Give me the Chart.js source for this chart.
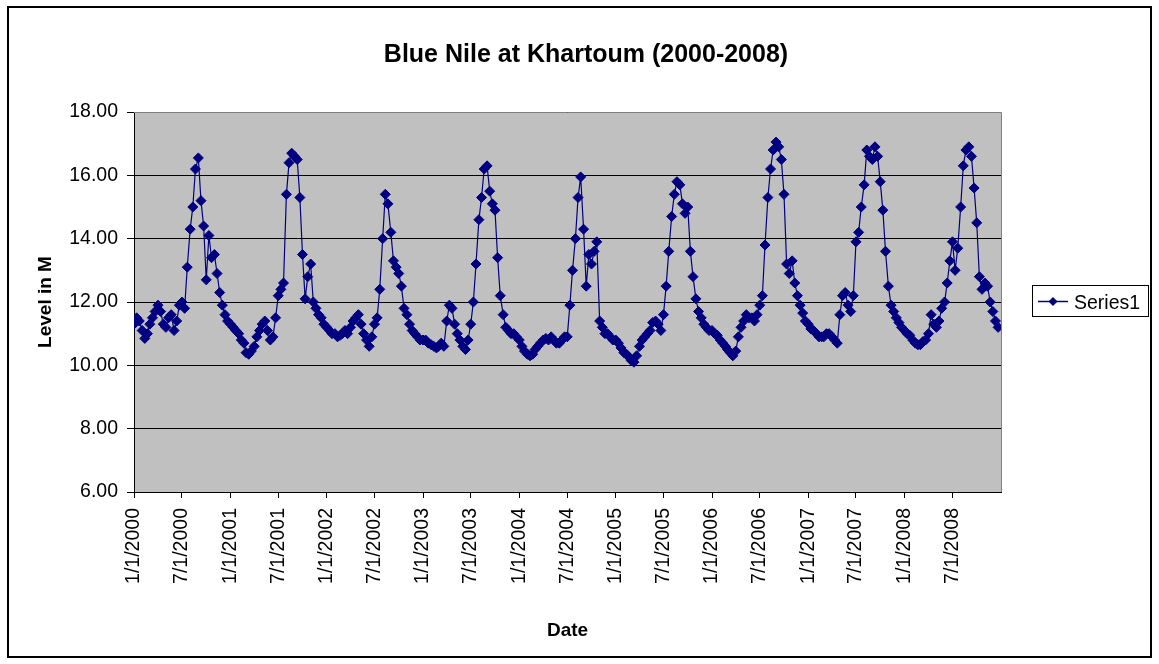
<!DOCTYPE html>
<html>
<head>
<meta charset="utf-8">
<title>Blue Nile at Khartoum (2000-2008)</title>
<script src="https://cdn.jsdelivr.net/npm/chart.js@4.4.1/dist/chart.umd.min.js"></script>
<style>
  html, body { margin: 0; padding: 0; background: #fff; }
  canvas { display: block; }
</style>
</head>
<body>
<canvas id="nileChart" width="1159" height="664"></canvas>
<script>
// water level (m), sampled on the 1st, 11th and 21st of each month
const levels2000 = [11.3, 11.5, 11.4, 11.1, 10.85, 11.0, 11.3, 11.5, 11.7, 11.9, 11.7, 11.3,
                    11.2, 11.5, 11.6, 11.1, 11.4, 11.9, 12.0, 11.8, 13.1, 14.3, 15.0, 16.2,
                    16.55, 15.2, 14.4, 12.7, 14.1, 13.4, 13.5, 12.9, 12.3, 11.9, 11.6, 11.4];
const levels2001 = [11.3, 11.2, 11.1, 11.0, 10.8, 10.7, 10.4, 10.35, 10.45, 10.6, 10.9, 11.1,
                    11.3, 11.4, 11.1, 10.8, 10.9, 11.5, 12.2, 12.4, 12.6, 15.4, 16.4, 16.7,
                    16.6, 16.5, 15.3, 13.5, 12.1, 12.8, 13.2, 12.0, 11.8, 11.6, 11.5, 11.3];
const levels2002 = [11.2, 11.1, 11.0, 11.0, 10.9, 10.95, 11.0, 11.1, 11.0, 11.2, 11.4, 11.5,
                    11.6, 11.3, 11.0, 10.8, 10.6, 10.9, 11.3, 11.5, 12.4, 14.0, 15.4, 15.1,
                    14.2, 13.3, 13.1, 12.9, 12.5, 11.8, 11.6, 11.3, 11.1, 11.0, 10.9, 10.8];
const levels2003 = [10.8, 10.8, 10.7, 10.65, 10.6, 10.55, 10.6, 10.7, 10.6, 11.4, 11.9, 11.8,
                    11.3, 11.0, 10.8, 10.6, 10.5, 10.8, 11.3, 12.0, 13.2, 14.6, 15.3, 16.2,
                    16.3, 15.5, 15.1, 14.9, 13.4, 12.2, 11.6, 11.2, 11.1, 11.0, 11.0, 10.9];
const levels2004 = [10.8, 10.6, 10.45, 10.35, 10.3, 10.35, 10.5, 10.6, 10.7, 10.8, 10.85, 10.8,
                    10.9, 10.8, 10.7, 10.7, 10.8, 10.9, 10.9, 11.9, 13.0, 14.0, 15.3, 15.95,
                    14.3, 12.5, 13.5, 13.2, 13.6, 13.9, 11.4, 11.2, 11.0, 11.0, 10.9, 10.8];
const levels2005 = [10.8, 10.7, 10.55, 10.4, 10.35, 10.25, 10.15, 10.1, 10.3, 10.6, 10.8, 10.9,
                    11.0, 11.1, 11.35, 11.4, 11.3, 11.1, 11.6, 12.5, 13.6, 14.7, 15.4, 15.8,
                    15.7, 15.1, 14.8, 15.0, 13.6, 12.8, 12.1, 11.7, 11.5, 11.3, 11.2, 11.1];
const levels2006 = [11.1, 11.0, 10.95, 10.8, 10.7, 10.6, 10.5, 10.4, 10.3, 10.45, 10.9, 11.2,
                    11.4, 11.6, 11.5, 11.5, 11.4, 11.6, 11.9, 12.2, 13.8, 15.3, 16.2, 16.8,
                    17.05, 16.9, 16.5, 15.4, 13.2, 12.9, 13.3, 12.6, 12.2, 11.9, 11.65, 11.4];
const levels2007 = [11.3, 11.15, 11.1, 11.0, 10.9, 10.9, 10.9, 11.0, 11.0, 10.9, 10.8, 10.7,
                    11.6, 12.2, 12.3, 11.9, 11.7, 12.2, 13.9, 14.2, 15.0, 15.7, 16.8, 16.6,
                    16.5, 16.9, 16.6, 15.8, 14.9, 13.6, 12.5, 11.9, 11.7, 11.5, 11.35, 11.2];
const levels2008 = [11.1, 11.0, 10.95, 10.8, 10.7, 10.65, 10.65, 10.75, 10.8, 11.0, 11.6, 11.3,
                    11.2, 11.4, 11.8, 12.0, 12.6, 13.3, 13.9, 13.0, 13.7, 15.0, 16.3, 16.8,
                    16.9, 16.6, 15.6, 14.5, 12.8, 12.4, 12.6, 12.5, 12.0, 11.7, 11.4, 11.2];

const years = [2000, 2001, 2002, 2003, 2004, 2005, 2006, 2007, 2008];
const sampleDays = [1, 11, 21];
const tickLabels = ['1/1/2000', '7/1/2000', '1/1/2001', '7/1/2001', '1/1/2002', '7/1/2002',
                    '1/1/2003', '7/1/2003', '1/1/2004', '7/1/2004', '1/1/2005', '7/1/2005',
                    '1/1/2006', '7/1/2006', '1/1/2007', '7/1/2007', '1/1/2008', '7/1/2008'];
const yTicks = [6, 8, 10, 12, 14, 16, 18];
const seriesName = 'Series1';
const chartTitle = 'Blue Nile at Khartoum (2000-2008)';
const xTitle = 'Date';
const yTitle = 'Level in M';

const DAY = 86400000;
const origin = Date.UTC(2000, 0, 1);
const dayOf = (y, m, d) => Math.round((Date.UTC(y, m, d) - origin) / DAY);
const parseLabel = s => { const [m, d, y] = s.split('/').map(Number); return dayOf(y, m - 1, d); };
const tickDays = tickLabels.map(parseLabel);
const endDay = dayOf(2009, 0, 1);

const yearLevels = [levels2000, levels2001, levels2002, levels2003, levels2004,
                    levels2005, levels2006, levels2007, levels2008];
const points = [];
years.forEach((yr, yi) => {
  yearLevels[yi].forEach((v, i) => {
    const month = Math.floor(i / 3);
    points.push({ x: dayOf(yr, month, sampleDays[i % 3]), y: v });
  });
});

const NAVY = '#000080';
const FONT = "'Liberation Sans', Arial, sans-serif";

const frame = {
  id: 'frame',
  beforeDraw(chart) {
    const { ctx, chartArea: a } = chart;
    ctx.save();
    ctx.fillStyle = '#fff';
    ctx.fillRect(0, 0, chart.width, chart.height);
    ctx.fillStyle = '#C0C0C0';
    ctx.fillRect(a.left, a.top, a.right - a.left, a.bottom - a.top);
    ctx.restore();
  },
  afterDraw(chart) {
    const { ctx, chartArea: a } = chart;
    ctx.save();
    // plot area edges
    ctx.strokeStyle = '#808080';
    ctx.lineWidth = 1;
    ctx.beginPath();
    ctx.moveTo(a.left, a.top + 0.5);
    ctx.lineTo(a.right + 0.5, a.top + 0.5);
    ctx.lineTo(a.right + 0.5, a.bottom);
    ctx.stroke();
    // outer chart border
    ctx.strokeStyle = '#000';
    ctx.lineWidth = 2;
    ctx.strokeRect(8, 7, 1143, 650);
    // title
    ctx.fillStyle = '#000';
    ctx.font = 'bold 25px ' + FONT;
    ctx.textAlign = 'center';
    ctx.textBaseline = 'alphabetic';
    ctx.fillText(chartTitle, 586, 62);
    // legend
    ctx.lineWidth = 1;
    ctx.strokeRect(1032.5, 285.5, 116, 31);
    ctx.strokeStyle = NAVY;
    ctx.lineWidth = 1.5;
    ctx.beginPath();
    ctx.moveTo(1038, 301.5);
    ctx.lineTo(1068, 301.5);
    ctx.stroke();
    ctx.fillStyle = NAVY;
    ctx.beginPath();
    ctx.moveTo(1053, 297);
    ctx.lineTo(1057.5, 301.5);
    ctx.lineTo(1053, 306);
    ctx.lineTo(1048.5, 301.5);
    ctx.closePath();
    ctx.fill();
    ctx.fillStyle = '#000';
    ctx.font = '19.5px ' + FONT;
    ctx.textAlign = 'left';
    ctx.fillText(chart.data.datasets[0].label, 1074, 309);
    ctx.restore();
  }
};

const tickFont = { family: FONT, size: 19.5 };
const titleFont = { family: FONT, size: 19, weight: 'bold' };

const ctx = document.getElementById('nileChart').getContext('2d');
const nileChart = new Chart(ctx, {
  type: 'line',
  data: {
    datasets: [{
      label: seriesName,
      data: points,
      borderColor: NAVY,
      borderWidth: 1.2,
      backgroundColor: NAVY,
      pointStyle: 'rectRot',
      pointRadius: 5,
      pointBorderWidth: 1,
      pointBackgroundColor: NAVY,
      pointBorderColor: NAVY,
      tension: 0
    }]
  },
  options: {
    responsive: false,
    animation: false,
    layout: { padding: { top: 112, right: 158, bottom: 0, left: 0 } },
    plugins: {
      legend: { display: false },
      title: { display: false },
      tooltip: { enabled: false }
    },
    scales: {
      x: {
        type: 'linear',
        min: 0,
        max: endDay,
        afterBuildTicks: s => { s.ticks = tickDays.map(v => ({ value: v })); },
        afterFit: s => { s.height = 172; },
        ticks: {
          autoSkip: false,
          minRotation: 90,
          maxRotation: 90,
          padding: 10,
          color: '#000',
          font: tickFont,
          callback: v => tickLabels[tickDays.indexOf(v)]
        },
        grid: { drawOnChartArea: false, tickLength: 6, color: '#000' },
        border: { color: '#000' },
        title: { display: true, text: xTitle, color: '#000', font: titleFont, padding: { top: 0, bottom: 22 } }
      },
      y: {
        min: 6,
        max: 18,
        afterBuildTicks: s => { s.ticks = yTicks.map(v => ({ value: v })); },
        afterFit: s => { s.width = 134; },
        ticks: {
          padding: 9,
          color: '#000',
          font: tickFont,
          callback: v => v.toFixed(2)
        },
        grid: { color: '#000', tickLength: 7 },
        border: { color: '#000' },
        title: { display: true, text: yTitle, color: '#000', font: titleFont, padding: { top: 34, bottom: 0 } }
      }
    }
  },
  plugins: [frame]
});
</script>
</body>
</html>
